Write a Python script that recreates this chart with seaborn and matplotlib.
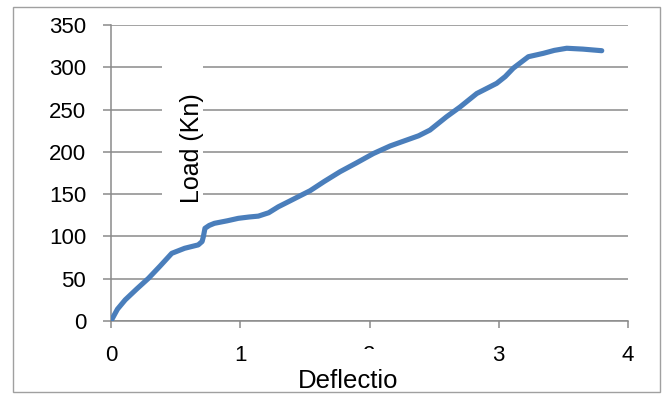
import matplotlib
matplotlib.use("Agg")
import matplotlib.pyplot as plt
import seaborn as sns
import pandas as pd
from matplotlib.patches import Rectangle

# ---- data ----
deflection = [0, 0.05, 0.11, 0.2, 0.29, 0.38, 0.47, 0.57, 0.675, 0.705, 0.715, 0.727,
              0.76, 0.80, 0.9, 0.985, 1.07, 1.14, 1.22, 1.294, 1.385, 1.475, 1.54,
              1.65, 1.772, 1.9, 2.03, 2.16, 2.288, 2.38, 2.468, 2.597, 2.70, 2.83,
              2.984, 3.05, 3.113, 3.229, 3.345, 3.43, 3.526, 3.65, 3.797]
load = [0, 14, 25, 38, 50.5, 65, 80, 86, 90, 94, 100, 109.6,
        113, 115.5, 118.5, 121.4, 123, 124, 128, 135, 142, 149, 154,
        165, 176.5, 187, 198, 207, 214, 219, 225.8, 241.6, 253, 269,
        281, 289, 299, 312.5, 316.5, 320, 322.5, 321.5, 319.6]
x_ticks = [0, 1, 2, 3, 4]
y_ticks = [0, 50, 100, 150, 200, 250, 300, 350]
x_label = "Deflectio"
y_label = "Load (Kn)"

df = pd.DataFrame({"Deflection": deflection, "Load": load})

sns.set_theme(style="white")
plt.rcParams["font.family"] = ["Liberation Sans", "DejaVu Sans"]

W, H = 664, 394
fig = plt.figure(figsize=(W / 100, H / 100), dpi=100)
ax = fig.add_axes([111 / W, 1 - 321 / H, (628 - 111) / W, (321 - 25) / H])

grid_c = "#8a8a8a"
sns.lineplot(data=df, x="Deflection", y="Load", ax=ax, color="#4a7ebb",
             linewidth=3.7, solid_capstyle="round", solid_joinstyle="round",
             zorder=3)

ax.set_xlim(0, 4)
ax.set_ylim(0, 350)
ax.set_xticks(x_ticks)
ax.set_yticks(y_ticks)
ax.set_xticklabels([str(v) for v in x_ticks])
ax.set_yticklabels([str(v) for v in y_ticks])
ax.set_xlabel("")
ax.set_ylabel("")

ax.yaxis.grid(True, color=grid_c, linewidth=1.1)
ax.xaxis.grid(False)
ax.set_axisbelow(True)
for s in ["top", "right"]:
    ax.spines[s].set_visible(False)
for s in ["left", "bottom"]:
    ax.spines[s].set_color(grid_c)
    ax.spines[s].set_linewidth(1.1)

ax.tick_params(axis="y", which="major", direction="out", length=5.8, width=1.1,
               color=grid_c, pad=12, labelsize=16, labelcolor="black", left=True)
ax.tick_params(axis="x", which="major", direction="out", length=5.0, width=1.1,
               color=grid_c, pad=12, labelsize=16, labelcolor="black", bottom=True)
ax.set_facecolor("white")

# y-axis title box (inside plot area, white background)
fig.patches.append(Rectangle((162 / W, 1 - 205 / H), 41 / W, 143 / H,
                             transform=fig.transFigure, facecolor="white",
                             edgecolor="none", zorder=5))
fig.text(192.5 / W, 1 - 148 / H, y_label, rotation=90, ha="center", va="center",
         fontsize=18, color="black", zorder=6)

# x-axis title box
fig.patches.append(Rectangle((290 / W, 1 - 390 / H), 115 / W, 41 / H,
                             transform=fig.transFigure, facecolor="white",
                             edgecolor="none", zorder=5))
fig.text(348.5 / W, 1 - 388 / H, x_label, ha="center", va="baseline",
         fontsize=18.5, color="black", zorder=6)

# outer chart border
fig.patches.append(Rectangle((13 / W, 1 - 392 / H), 647 / W, 385 / H,
                             transform=fig.transFigure, facecolor="none",
                             edgecolor="#a0a0a0", linewidth=1.0, zorder=7))

fig.savefig("out.png", dpi=100)
